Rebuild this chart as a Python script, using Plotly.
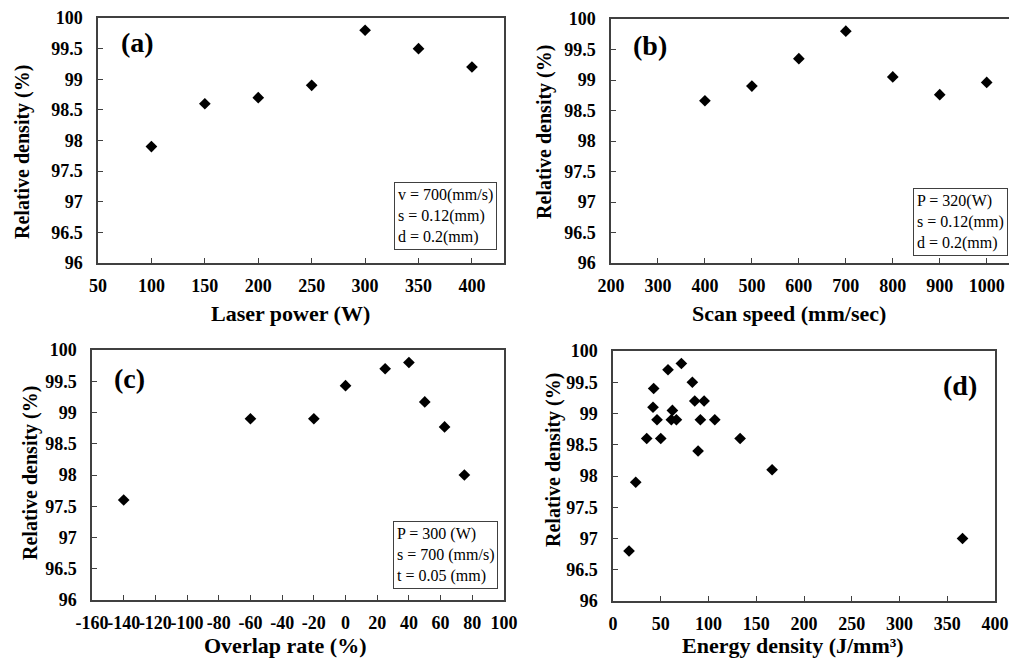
import plotly.graph_objects as go

W, H = 1009, 661

# ---------------- data ----------------
power_x = [100, 150, 200, 250, 300, 350, 400]
power_y = [97.9, 98.6, 98.7, 98.9, 99.8, 99.5, 99.2]

speed_x = [400, 500, 600, 700, 800, 900, 1000]
speed_y = [98.66, 98.9, 99.35, 99.8, 99.05, 98.76, 98.96]

overlap_x = [-140, -60, -20, 0, 25, 40, 50, 62.5, 75]
overlap_y = [97.6, 98.9, 98.9, 99.43, 99.7, 99.8, 99.17, 98.77, 98.0]

energy_x = [16.8, 23.8, 35.3, 41.9, 42.6, 46.1, 50.0, 57.6, 61.1, 62.2, 66.4,
            71.6, 83.1, 85.6, 89.1, 91.5, 95.4, 106.6, 133.1, 166.6, 366.0]
energy_y = [96.8, 97.9, 98.6, 99.1, 99.4, 98.9, 98.6, 99.7, 98.9, 99.05, 98.9,
            99.8, 99.5, 99.2, 98.4, 98.9, 99.2, 98.9, 98.6, 98.1, 97.0]

y_ticks = [96, 96.5, 97, 97.5, 98, 98.5, 99, 99.5, 100]
y_ticktext = ["96", "96.5", "97", "97.5", "98", "98.5", "99", "99.5", "100"]
power_ticks = [50, 100, 150, 200, 250, 300, 350, 400]
speed_ticks = [200, 300, 400, 500, 600, 700, 800, 900, 1000]
overlap_ticks = [-160, -140, -120, -100, -80, -60, -40, -20, 0, 20, 40, 60, 80, 100]
overlap_ticktext = ["-160", "-140", "-120", "-100", "-80", "-60", "-40", "-20",
                    "0", "20", "40", "60", "80", "100"]
energy_ticks = [0, 50, 100, 150, 200, 250, 300, 350, 400]

panel_labels = ["(a)", "(b)", "(c)", "(d)"]
x_titles = ["Laser power (W)", "Scan speed (mm/sec)", "Overlap rate (%)",
            "Energy density (J/mm³)"]
y_title = "Relative density (%)"
box_texts = [
    "v = 700(mm/s)<br>s = 0.12(mm)<br>d = 0.2(mm)",
    "P = 320(W)<br>s = 0.12(mm)<br>d = 0.2(mm)",
    "P = 300 (W)<br>s = 700 (mm/s)<br>t = 0.05 (mm)",
]

# ---------------- layout helpers ----------------
SERIF = "'Liberation Serif', 'Times New Roman', Times, serif"
AX = "#404040"


def px(x):
    return x / W


def py(y):
    return 1 - y / H


fig = go.Figure()

series = [(power_x, power_y), (speed_x, speed_y), (overlap_x, overlap_y), (energy_x, energy_y)]
for i, (xs, ys) in enumerate(series):
    sfx = "" if i == 0 else str(i + 1)
    fig.add_trace(go.Scatter(
        x=xs, y=ys, mode="markers", xaxis="x" + sfx, yaxis="y" + sfx,
        marker=dict(symbol="diamond", size=9, color="black", line=dict(width=0)),
        showlegend=False, hoverinfo="x+y"))

# panel pixel boxes: left, right, top, bottom
boxes = [
    (98, 504, 18, 263),
    (611, 1009, 19, 263),
    (92, 504, 350, 600),
    (613, 995, 351, 601),
]
x_ranges = [[50, 430], [200, 1047.5], [-160, 100], [0, 400]]
x_tickvals = [power_ticks, speed_ticks, overlap_ticks, energy_ticks]
x_ticktexts = [[str(v) for v in power_ticks], [str(v) for v in speed_ticks],
               overlap_ticktext, [str(v) for v in energy_ticks]]

tickfont = dict(family=SERIF, size=18, color="black", weight="bold")

layout = dict(
    width=W, height=H, margin=dict(l=0, r=0, t=0, b=0),
    paper_bgcolor="white", plot_bgcolor="white", showlegend=False,
    font=dict(family=SERIF, color="black"),
)
for i, (l, r, t, b) in enumerate(boxes):
    sfx = "" if i == 0 else str(i + 1)
    layout["xaxis" + sfx] = dict(
        domain=[px(l), min(px(r), 1.0)], range=x_ranges[i], anchor="y" + sfx,
        tickmode="array", tickvals=x_tickvals[i], ticktext=x_ticktexts[i],
        ticks="inside", ticklen=5, tickwidth=1, tickcolor=AX, tickangle=0,
        showline=True, linecolor=AX, linewidth=1.5, mirror=True, automargin=False,
        showgrid=False, zeroline=False, tickfont=tickfont, ticklabelstandoff=6,
    )
    layout["yaxis" + sfx] = dict(
        domain=[py(b), py(t)], range=[96, 100], anchor="x" + sfx,
        tickmode="array", tickvals=y_ticks, ticktext=y_ticktext,
        ticks="inside", ticklen=5, tickwidth=1, tickcolor=AX, automargin=False,
        showline=True, linecolor=AX, linewidth=1.5, mirror=(i != 1),
        showgrid=False, zeroline=False, tickfont=tickfont, ticklabelstandoff=10,
    )

fig.update_layout(**layout)

ann = []
# x titles (center x, center y)
xt_pos = [(290, 313), (789, 313), (285, 645), (793, 645)]
for txt, (cx, cy) in zip(x_titles, xt_pos):
    ann.append(dict(text=txt, x=px(cx), y=py(cy), xref="paper", yref="paper",
                    xanchor="center", yanchor="middle", showarrow=False,
                    font=dict(family=SERIF, size=22, color="black", weight="bold")))
# y titles
yt_pos = [(22, 152), (545, 132), (30, 473), (553, 460)]
for (cx, cy) in yt_pos:
    ann.append(dict(text=y_title, x=px(cx), y=py(cy), xref="paper", yref="paper",
                    xanchor="center", yanchor="middle", showarrow=False, textangle=-90,
                    font=dict(family=SERIF, size=20, color="black", weight="bold")))
# panel labels
pl_pos = [(137, 43), (650, 45), (129, 378), (960, 385)]
for txt, (cx, cy) in zip(panel_labels, pl_pos):
    ann.append(dict(text=txt, x=px(cx), y=py(cy), xref="paper", yref="paper",
                    xanchor="center", yanchor="middle", showarrow=False,
                    font=dict(family=SERIF, size=28, color="black", weight="bold")))
# parameter boxes (right x, bottom y)
bx_pos = [(497, 250), (1008, 256), (498, 589)]
for txt, (rx, by) in zip(box_texts, bx_pos):
    ann.append(dict(text=txt, x=px(rx), y=py(by), xref="paper", yref="paper",
                    xanchor="right", yanchor="bottom", showarrow=False, align="left",
                    bordercolor="#404040", borderwidth=1, borderpad=3, bgcolor="white",
                    font=dict(family=SERIF, size=16, color="black")))

fig.update_layout(annotations=ann)
fig.write_html("out.html")
